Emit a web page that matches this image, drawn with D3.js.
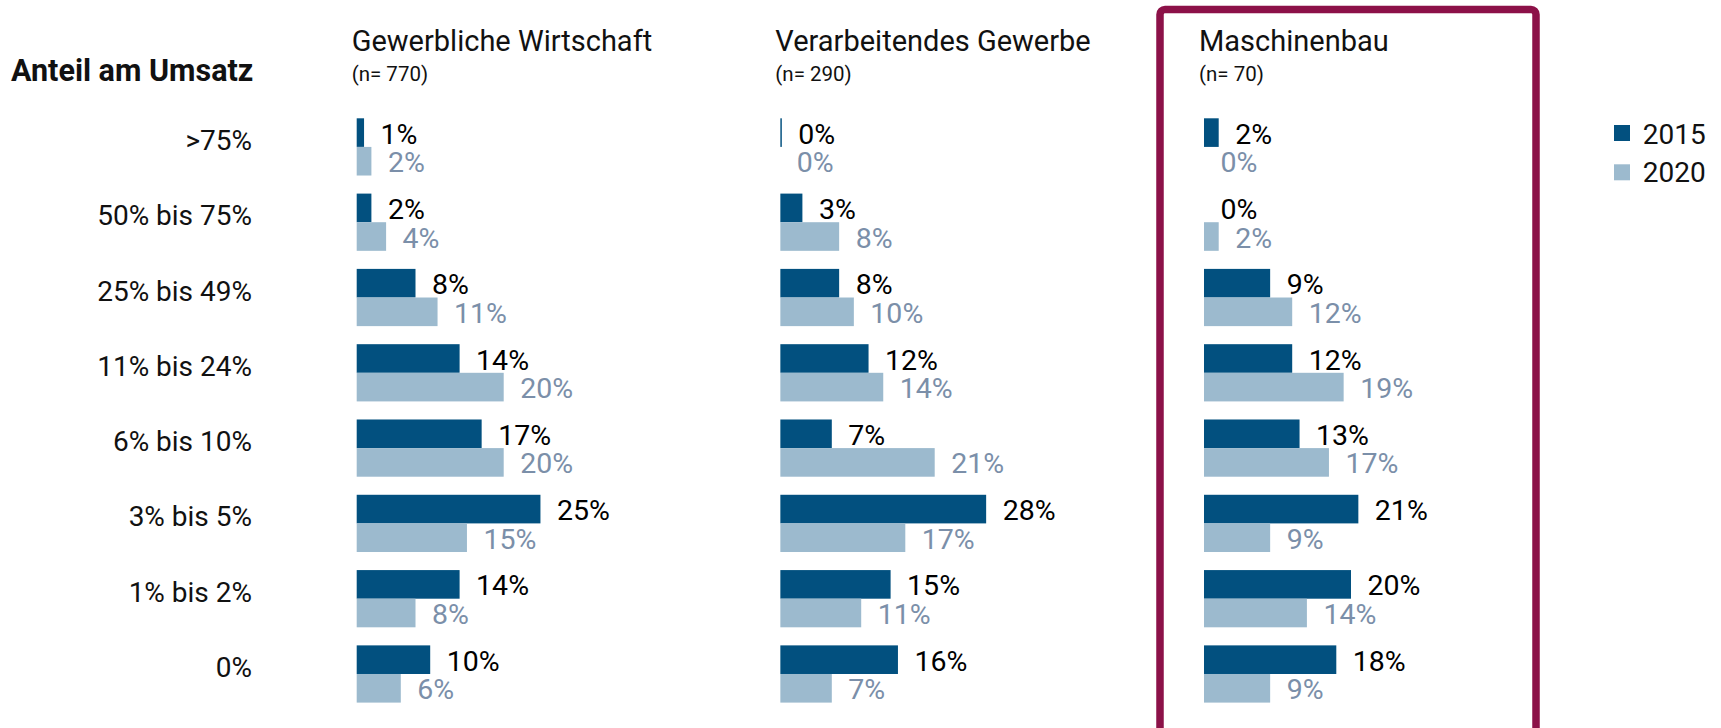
<!DOCTYPE html>
<html>
<head>
<meta charset="utf-8">
<style>
  body { margin: 0; background: #fff; }
  svg { display: block; font-family: Roboto, 'Open Sans', sans-serif; }
  .cat { font-size: 28px; fill: #111; text-anchor: end; }
  .title { font-size: 29px; fill: #111; }
  .sub { font-size: 20.5px; fill: #111; }
  .val { font-size: 28.5px; }
</style>
</head>
<body>
<svg width="1721" height="728"></svg>

<script src="https://d3js.org/d3.v7.min.js"></script>
<script>
  // categories (rows) and the two survey years
  const categories = [">75%", "50% bis 75%", "25% bis 49%", "11% bis 24%", "6% bis 10%", "3% bis 5%", "1% bis 2%", "0%"];
  const years = ["2015", "2020"];

  // panels
  const panelTitles = ["Gewerbliche Wirtschaft", "Verarbeitendes Gewerbe", "Maschinenbau"];
  const panelN = ["(n= 770)", "(n= 290)", "(n= 70)"];

  // values in percent, one array per panel and year
  const gewerbe2015 = [1, 2, 8, 14, 17, 25, 14, 10];
  const gewerbe2020 = [2, 4, 11, 20, 20, 15, 8, 6];
  const verarb2015 = [0.2, 3, 8, 12, 7, 28, 15, 16];
  const verarb2020 = [0, 8, 10, 14, 21, 17, 11, 7];
  const masch2015 = [2, 0, 9, 12, 13, 21, 20, 18];
  const masch2020 = [0, 2, 12, 19, 17, 9, 14, 9];

  const panelData = [
    [gewerbe2015, gewerbe2020],
    [verarb2015, verarb2020],
    [masch2015, masch2020]
  ];

  const barColor = { "2015": "#02507f", "2020": "#9cbace" };
  const labelColor = { "2015": "#000", "2020": "#7b8fa9" };

  let svg = d3.select("svg");

  let y = d3.scaleBand()
    .domain(categories)
    .range([118.3, 702.6])
    .paddingInner(0.24)
    .paddingOuter(0);

  let yInner = d3.scaleBand()
    .domain(years)
    .range([0, y.bandwidth()]);

  let x = d3.scaleLinear()
    .domain([0, 30])
    .range([0, 220.5]);

  let panelX = d3.scalePoint()
    .domain(panelTitles)
    .range([356.7, 1204]);

  let fmt = d3.format(".0f");

  // frame around Maschinenbau
  svg.append("rect")
    .attr("x", 1160)
    .attr("y", 9.5)
    .attr("width", 376)
    .attr("height", 740)
    .attr("rx", 5)
    .style("fill", "none")
    .style("stroke", "#8c1148")
    .style("stroke-width", 7.5);

  // left header + row labels
  svg.append("text")
    .attr("x", 11)
    .attr("y", 80.7)
    .style("font-size", "30.5px")
    .style("font-weight", "bold")
    .style("fill", "#111")
    .text("Anteil am Umsatz");

  svg.selectAll(".cat")
    .data(categories)
    .join("text")
    .attr("class", "cat")
    .attr("x", 252)
    .attr("y", d => y(d) + y.bandwidth() / 2 + 3)
    .text(d => d);

  panelTitles.forEach((title, p) => {
    let g = svg.append("g")
      .attr("transform", "translate(" + panelX(title) + ",0)");

    g.append("text")
      .attr("class", "title")
      .attr("x", -5)
      .attr("y", 50.7)
      .text(title);

    g.append("text")
      .attr("class", "sub")
      .attr("x", -5)
      .attr("y", 81)
      .text(panelN[p]);

    years.forEach((yr, k) => {
      let values = panelData[p][k];

      g.selectAll(".bar-" + yr)
        .data(values)
        .join("rect")
        .attr("class", "bar-" + yr)
        .attr("x", 0)
        .attr("y", (d, i) => y(categories[i]) + yInner(yr))
        .attr("width", d => x(d))
        .attr("height", yInner.bandwidth())
        .style("fill", barColor[yr]);

      g.selectAll(".val-" + yr)
        .data(values)
        .join("text")
        .attr("class", "val val-" + yr)
        .attr("x", d => x(d) + 16.5)
        .attr("y", (d, i) => y(categories[i]) + yInner(yr) + yInner.bandwidth() - 3.3)
        .style("fill", labelColor[yr])
        .text(d => fmt(d) + "%");
    });
  });

  // legend
  let legend = svg.append("g")
    .attr("transform", "translate(1614,125)");

  legend.selectAll("rect")
    .data(years)
    .join("rect")
    .attr("x", 0)
    .attr("y", (d, i) => i * 39.3)
    .attr("width", 16)
    .attr("height", 16)
    .style("fill", d => barColor[d]);

  legend.selectAll("text")
    .data(years)
    .join("text")
    .attr("x", 28.7)
    .attr("y", (d, i) => 19.3 + i * 38)
    .style("font-size", "28px")
    .style("fill", "#111")
    .text(d => d);
</script>
</body>
</html>
